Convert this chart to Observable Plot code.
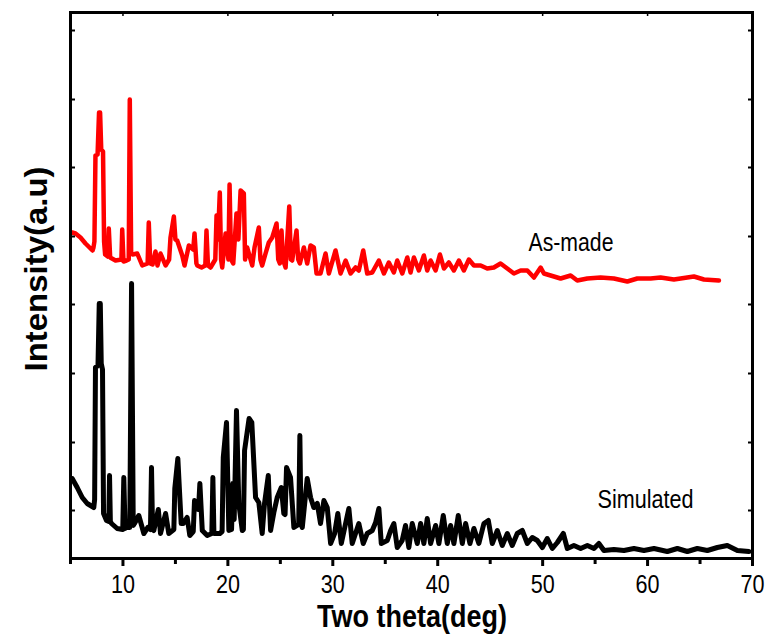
<!DOCTYPE html>
<html><head><meta charset="utf-8">
<script src="https://cdn.jsdelivr.net/npm/d3@7"></script>
<script src="https://cdn.jsdelivr.net/npm/@observablehq/plot@0.6"></script>
<style>html,body{margin:0;padding:0;background:#fff}</style>
</head><body><div id="chart"></div>
<script>
// As-made pattern (two theta, intensity a.u.)
const asMadeTheta = [5.16,5.48,5.95,6.43,7.10,7.19,7.28,7.38,7.58,7.72,7.82,7.93,8.10,8.20,8.30,8.55,8.65,8.78,9.29,9.85,9.93,10.05,10.34,10.55,10.65,10.78,10.91,11.36,11.84,12.35,12.46,12.60,12.82,13.10,13.29,13.58,14.06,14.40,14.53,14.85,15.00,15.17,15.65,15.87,16.28,16.70,16.82,17.00,17.08,17.49,17.85,17.96,18.10,18.35,18.80,18.92,19.05,19.23,19.35,19.46,19.78,20.05,20.16,20.30,20.51,20.82,21.00,21.21,21.52,21.64,21.84,22.32,22.54,22.95,23.10,23.27,23.59,23.90,24.23,24.64,24.80,24.95,25.11,25.25,25.50,25.85,26.00,26.13,26.54,26.70,26.86,27.24,27.56,27.88,28.19,28.45,28.83,29.31,29.62,30.26,30.74,31.22,31.69,32.17,32.48,32.90,33.28,33.76,34.39,34.87,35.34,35.82,36.14,36.62,37.10,37.41,37.73,38.20,38.68,39.00,39.32,39.80,40.21,40.59,41.06,41.54,42.02,42.49,42.97,43.45,44.09,44.72,45.35,45.99,46.63,47.26,47.90,48.54,49.17,49.81,50.12,50.76,51.71,52.67,53.30,54.26,55.52,56.79,58.07,59.02,60.29,61.24,62.51,64.42,65.37,66.80];
const asMadeI = [327,326,322,316,309,312,318,404,405,447,447,410,408,318,305,303,331,302,299,300,330,298,299,300,460,306,305,306,294,296,337,296,295,308,294,306,294,300,322,343,320,319,304,294,314,310,326,296,294,292,294,329,294,292,300,344,320,367,300,292,326,300,375,300,296,346,320,369,366,300,312,294,312,332,300,294,306,317,322,336,300,296,329,300,292,353,300,299,329,300,296,312,296,314,312,286,286,306,286,309,286,299,286,292,289,309,286,287,299,286,297,287,299,286,302,287,302,289,304,289,299,289,305,291,297,289,299,289,300,294,294,291,292,296,291,286,289,289,282,292,286,284,281,284,279,281,282,281,278,281,281,282,280,283,280,279];

// Simulated pattern (two theta, intensity a.u.)
const simTheta = [5.16,5.64,6.12,6.59,7.22,7.30,7.38,7.62,7.74,7.84,7.93,8.05,8.15,8.43,8.65,8.72,8.80,8.91,9.45,9.98,10.08,10.20,10.34,10.65,10.82,10.98,11.10,11.51,11.99,12.37,12.62,12.72,12.82,12.94,13.37,13.58,14.06,14.37,14.85,14.94,15.23,15.42,15.55,15.74,16.12,16.37,16.70,16.82,17.00,17.20,17.33,17.56,18.03,18.47,18.57,18.67,18.82,19.23,19.45,19.56,19.87,20.09,20.35,20.47,20.60,20.82,21.04,21.37,21.48,21.59,22.02,22.28,22.64,22.95,23.27,23.49,23.85,24.07,24.38,24.70,25.09,25.33,25.45,25.59,25.97,26.29,26.75,26.86,26.97,27.09,27.56,27.88,28.19,28.52,28.83,29.15,29.47,29.79,30.17,30.48,30.81,31.22,31.53,31.85,32.48,32.90,33.28,33.76,34.08,34.39,34.62,35.19,35.51,35.82,36.14,36.61,36.93,37.25,37.57,38.05,38.37,38.68,39.00,39.32,39.80,40.11,40.53,40.91,41.23,41.54,41.96,42.34,42.66,43.07,43.45,43.92,44.40,44.82,45.20,45.68,46.15,46.63,47.10,47.58,48.06,48.54,49.01,49.49,49.97,50.44,50.92,51.40,51.97,52.35,52.98,53.62,54.26,54.89,55.36,55.84,56.79,57.75,58.70,59.65,60.61,61.88,62.84,63.79,64.74,65.70,66.65,67.60,68.56,69.66];
const simI = [81,72,62,56,52,60,192,194,256,256,196,190,46,39,38,84,38,36,31,30,82,31,32,32,276,34,36,44,26,32,30,92,30,29,50,26,46,26,30,71,101,62,36,36,42,24,28,59,55,50,76,29,24,26,82,26,26,26,28,102,137,29,30,76,40,149,56,29,30,109,141,137,62,57,26,56,84,29,47,62,72,46,45,92,82,32,35,124,35,32,81,62,52,56,36,59,52,16,26,46,16,36,51,16,36,16,26,29,37,51,16,19,29,36,12,19,34,12,36,16,36,16,41,16,34,16,44,16,34,16,44,16,36,16,31,16,36,39,16,29,14,26,14,26,29,16,22,19,12,21,11,17,26,11,14,11,14,11,16,9,10,9,11,9,11,8,11,8,11,9,12,14,9,8];

const xMajorTicks = [10,20,30,40,50,60,70];
const xMinorTicks = [5,15,25,35,45,55,65];
const yTicks = [49,117,186,255,323,392,460,529];
const seriesNames = ["As-made","Simulated"];
const seriesLabelTheta = [52.7, 59.8];
const seriesLabelI = [317, 60];

const asMade = asMadeTheta.map((t, i) => ({t, v: asMadeI[i]}));
const simulated = simTheta.map((t, i) => ({t, v: simI[i]}));

const font = "'Liberation Sans','Arial',sans-serif";
const empty = () => "";

const svg = Plot.plot({
  width: 767, height: 639,
  marginLeft: 70, marginRight: 15, marginTop: 12, marginBottom: 81,
  style: {fontFamily: font, fontSize: "26px", color: "#000", background: "#fff"},
  x: {domain: [5, 70], axis: null},
  y: {domain: [1, 547], axis: null},
  marks: [
    Plot.line(simulated, {x: "t", y: "v", stroke: "#000", strokeWidth: 5, strokeLinejoin: "round"}),
    Plot.line(asMade, {x: "t", y: "v", stroke: "#ff0000", strokeWidth: 4.5, strokeLinejoin: "round"}),
    Plot.axisX({anchor: "bottom", ticks: xMajorTicks, tickSize: 8, tickPadding: 9, strokeWidth: 3, fontSize: 25, label: null}),
    Plot.axisX({anchor: "bottom", ticks: xMinorTicks, tickSize: 6, tickFormat: empty, strokeWidth: 3, label: null}),
    Plot.axisX({anchor: "top", ticks: xMajorTicks, tickSize: -3, tickFormat: empty, strokeWidth: 1.5, label: null}),
    Plot.axisY({anchor: "left", ticks: yTicks, tickSize: -5, tickFormat: empty, strokeWidth: 2, label: null}),
    Plot.axisY({anchor: "right", ticks: yTicks, tickSize: -5, tickFormat: empty, strokeWidth: 2, label: null}),
    Plot.frame({stroke: "#000", strokeWidth: 3}),
    Plot.text(seriesNames, {x: (d, i) => seriesLabelTheta[i], y: (d, i) => seriesLabelI[i], text: d => d, fontSize: 25, fill: "#000"})
  ]
});

const s = d3.select(svg);
// condense the text to match the narrow face of the original
s.selectAll('[aria-label="x-axis tick label"] text')
  .attr("textLength", 24).attr("lengthAdjust", "spacingAndGlyphs");
s.selectAll('[aria-label="text"] text')
  .attr("textLength", (d, i, n) => n[i].textContent === "As-made" ? 85 : 96)
  .attr("lengthAdjust", "spacingAndGlyphs");
s.append("text")
  .attr("x", 412).attr("y", 627)
  .attr("text-anchor", "middle")
  .attr("font-family", font).attr("font-weight", "bold").attr("font-size", 32)
  .attr("textLength", 190).attr("lengthAdjust", "spacingAndGlyphs")
  .attr("fill", "#000")
  .text("Two theta(deg)");
s.append("text")
  .attr("transform", "translate(47,269) rotate(-90)")
  .attr("text-anchor", "middle")
  .attr("font-family", font).attr("font-weight", "bold").attr("font-size", 32)
  .attr("textLength", 205).attr("lengthAdjust", "spacingAndGlyphs")
  .attr("fill", "#000")
  .text("Intensity(a.u)");

document.getElementById("chart").appendChild(svg);
</script></body></html>
